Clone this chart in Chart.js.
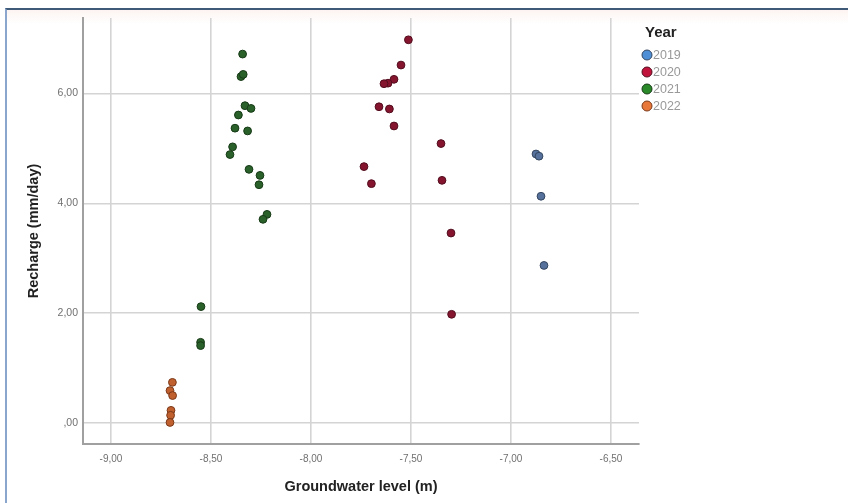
<!DOCTYPE html>
<html>
<head>
<meta charset="utf-8">
<script src="https://cdn.jsdelivr.net/npm/chart.js@4.4.1/dist/chart.umd.min.js"></script>
<style>
  html, body { margin: 0; padding: 0; background: #fff; }
  #wrap { position: relative; width: 848px; height: 503px; overflow: hidden; }
  #frame {
    position: absolute; left: 5px; top: 8px; width: 860px; height: 520px;
    border-top: 2px solid #3f5a78; border-left: 2px solid #8aa6cc;
    background: linear-gradient(#fdf4f2 0px, #ffffff 14px);
  }
  canvas { position: absolute; left: 0; top: 0; }
</style>
</head>
<body>
<div id="wrap">
  <div id="frame"></div>
  <canvas id="chart" width="848" height="503"></canvas>
</div>
<script>
const years = ['2019', '2020', '2021', '2022'];

const gw2019 = [-6.875, -6.86, -6.85, -6.835];
const rc2019 = [4.90, 4.86, 4.13, 2.87];

const gw2020 = [-7.513, -7.55, -7.585, -7.615, -7.635, -7.66, -7.608, -7.585, -7.35, -7.735, -7.698, -7.345, -7.30, -7.297];
const rc2020 = [6.98, 6.52, 6.26, 6.19, 6.18, 5.76, 5.72, 5.41, 5.09, 4.67, 4.36, 4.42, 3.46, 1.98];

const gw2021 = [-8.342, -8.35, -8.339, -8.33, -8.30, -8.363, -8.38, -8.317, -8.392, -8.405, -8.31, -8.255, -8.26, -8.22, -8.24, -8.55, -8.552, -8.552];
const rc2021 = [6.72, 6.31, 6.35, 5.78, 5.73, 5.61, 5.37, 5.32, 5.03, 4.89, 4.62, 4.51, 4.34, 3.80, 3.71, 2.12, 1.47, 1.41];

const gw2022 = [-8.693, -8.705, -8.692, -8.70, -8.702, -8.705];
const rc2022 = [0.74, 0.59, 0.50, 0.23, 0.14, 0.01];

const xTickValues = [-9, -8.5, -8, -7.5, -7, -6.5];
const xTickLabels = ['-9,00', '-8,50', '-8,00', '-7,50', '-7,00', '-6,50'];
const yTickValues = [0, 2, 4, 6];
const yTickLabels = [',00', '2,00', '4,00', '6,00'];

const pointFill = ['#56729c', '#85142f', '#2a602a', '#c0602f'];
const pointEdge = ['#34465f', '#520e1e', '#173a17', '#7a3818'];
const legendFill = ['#4f8fd6', '#c0143c', '#2a8a2a', '#e8783a'];

const FONT = '"Liberation Sans", Arial, sans-serif';

function toPoints(xs, ys) {
    return xs.map((x, i) => ({ x: x, y: ys[i] }));
}

const series = [[gw2019, rc2019], [gw2020, rc2020], [gw2021, rc2021], [gw2022, rc2022]];

const legendPlugin = {
    id: 'yearLegend',
    afterDraw(chart) {
        const ctx = chart.ctx;
        ctx.save();
        ctx.fillStyle = '#222';
        ctx.font = 'bold 15px ' + FONT;
        ctx.textAlign = 'left';
        ctx.textBaseline = 'middle';
        ctx.fillText('Year', 645, 33);
        ctx.font = '12.5px ' + FONT;
        years.forEach((yr, i) => {
            const cy = 55 + i * 17;
            ctx.beginPath();
            ctx.arc(647, cy, 5, 0, Math.PI * 2);
            ctx.fillStyle = legendFill[i];
            ctx.fill();
            ctx.lineWidth = 1;
            ctx.strokeStyle = pointEdge[i];
            ctx.stroke();
            ctx.fillStyle = '#999';
            ctx.fillText(yr, 653, cy + 1);
        });
        ctx.restore();
    }
};

new Chart(document.getElementById('chart'), {
    type: 'scatter',
    data: {
        datasets: series.map((s, i) => ({
            label: years[i],
            data: toPoints(s[0], s[1]),
            backgroundColor: pointFill[i],
            borderColor: pointEdge[i],
            borderWidth: 1,
            pointRadius: 3.9,
            pointHoverRadius: 3.9
        }))
    },
    options: {
        responsive: false,
        animation: false,
        layout: { padding: { left: 0, top: 18, right: 209, bottom: 0 } },
        plugins: {
            legend: { display: false },
            tooltip: { enabled: false }
        },
        scales: {
            x: {
                type: 'linear',
                min: -9.14,
                max: -6.36,
                afterFit: s => { s.height = 59; },
                afterBuildTicks: s => { s.ticks = xTickValues.map(v => ({ value: v })); },
                grid: { color: '#d4d4d4', lineWidth: 1.6, drawTicks: false },
                border: { color: '#a0a0a0', width: 2 },
                ticks: {
                    color: '#707070',
                    font: { family: FONT, size: 10 },
                    padding: 9,
                    maxRotation: 0,
                    callback: (v) => xTickLabels[xTickValues.indexOf(v)]
                },
                title: {
                    display: true,
                    text: 'Groundwater level (m)',
                    color: '#222',
                    font: { family: FONT, size: 14.5, weight: 'bold' },
                    padding: { top: 0, bottom: 7 }
                }
            },
            y: {
                type: 'linear',
                min: -0.3825,
                max: 7.377,
                afterFit: s => { s.width = 83; },
                afterBuildTicks: s => { s.ticks = yTickValues.map(v => ({ value: v })); },
                grid: { color: '#d4d4d4', lineWidth: 1.6, drawTicks: false },
                border: { color: '#a0a0a0', width: 2 },
                ticks: {
                    color: '#707070',
                    font: { family: FONT, size: 10.5 },
                    padding: 5,
                    callback: (v) => yTickLabels[yTickValues.indexOf(v)]
                },
                title: {
                    display: true,
                    text: 'Recharge (mm/day)',
                    color: '#222',
                    font: { family: FONT, size: 14.5, weight: 'bold' },
                    padding: { top: 25, bottom: 0 }
                }
            }
        }
    },
    plugins: [legendPlugin]
});
</script>
</body>
</html>
